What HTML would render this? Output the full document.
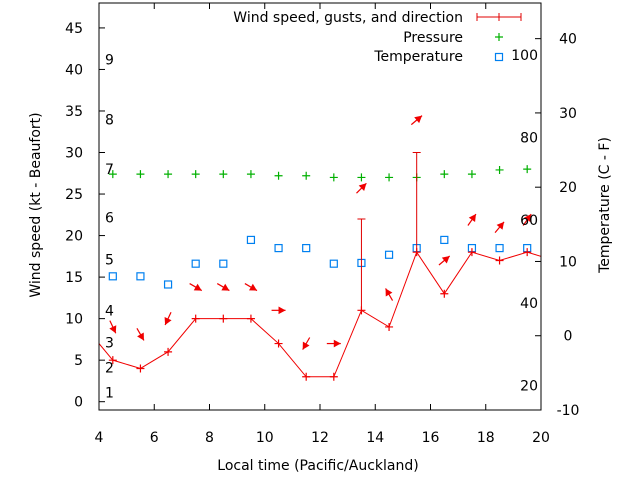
<!DOCTYPE html>
<html><head><meta charset="utf-8"><style>
body{margin:0;background:#fff}
svg{display:block;font-family:"DejaVu Sans","Liberation Sans",sans-serif;font-size:14px}
</style></head><body>
<svg id="c" width="640" height="480">
<rect width="640" height="480" fill="#fff"/>
</svg>
<script>
const times=[3.5,4.5,5.5,6.5,7.5,8.5,9.5,10.5,11.5,12.5,13.5,14.5,15.5,16.5,17.5,18.5,19.5,20.5];
const windSpeed=[9,5,4,6,10,10,10,7,3,3,11,9,18,13,18,17,18,17];
const gustTimes=[13.5,15.5];
const gustValues=[22,30];
const gustBase=[11,18];
const ptTimes=[4.5,5.5,6.5,7.5,8.5,9.5,10.5,11.5,12.5,13.5,14.5,15.5,16.5,17.5,18.5,19.5];
const pressure=[27.4,27.4,27.4,27.4,27.4,27.4,27.2,27.2,27.0,27.0,27.0,27.0,27.4,27.4,27.9,28.0];
const temperature=[8,8,6.9,9.7,9.7,12.9,11.8,11.8,9.7,9.8,10.9,11.8,12.9,11.8,11.8,11.8];
const arrowY=[9.0,8.1,10,13.8,13.8,13.8,11,7,7,25.7,12.9,33.9,17,21.9,21,21.9];
const arrowDir=[65,60,115,30,30,30,0,120,0,-45,-120,-40,-40,-55,-50,-55];
const leftTicks=[0,5,10,15,20,25,30,35,40,45];
const rightTicks=[-10,0,10,20,30,40];
const xTicks=[4,6,8,10,12,14,16,18,20];
const beaufortLabels=["1","2","3","4","5","6","7","8","9"];
const beaufortY=[1.1,4.1,7.1,11.0,17.1,22.2,28.0,34.0,41.2];
const fahrLabels=["20","40","60","80","100"];
const fahrC=[-6.67,4.44,15.56,26.67,37.78];

const L=99,R=541,T=3,B=410;
const X=t=>L+(t-4)/16*(R-L);
const Y=v=>B-(v+1)/49*(B-T);
const YR=v=>B-(v+10)/54.8*(B-T);
const svg=document.getElementById('c');
const NS='http://www.w3.org/2000/svg';
function mk(tag,at,parent){const e=document.createElementNS(NS,tag);for(const k in at)e.setAttribute(k,at[k]);(parent||svg).appendChild(e);return e;}
function txt(x,y,s,anchor){const e=mk('text',{x:x,y:y,'text-anchor':anchor||'start',fill:'#000'});e.textContent=s;return e;}

const defs=mk('defs',{});
const cp=mk('clipPath',{id:'pc'},defs);mk('rect',{x:L,y:T,width:R-L,height:B-T},cp);
const g=mk('g',{'clip-path':'url(#pc)'});

let e=mk('rect',{x:L,y:T,width:R-L,height:B-T,fill:'none',stroke:'#000','stroke-width':1});


leftTicks.forEach(v=>{mk('line',{x1:L,x2:L+6,y1:Y(v),y2:Y(v),stroke:'#000'});
 const t=txt(L-16,Y(v)+5,String(v),'end');
 
 });
rightTicks.forEach(v=>{mk('line',{x1:R-6,x2:R,y1:YR(v),y2:YR(v),stroke:'#000'});
 const t=txt(R+27,YR(v)+5,String(v),'middle');
 
 });
xTicks.forEach(v=>{mk('line',{x1:X(v),x2:X(v),y1:B,y2:B-6,stroke:'#000'});mk('line',{x1:X(v),x2:X(v),y1:T,y2:T+6,stroke:'#000'});
 const t=txt(X(v),B+32,String(v),'middle');
 
 });
beaufortLabels.forEach((s,i)=>{const t=txt(105,Y(beaufortY[i])+5,s,'start');
 
 });
fahrLabels.forEach((s,i)=>{const t=txt(538,YR(fahrC[i])+5,s,'end');
 
 });

pressure.forEach((v,i)=>{const x=X(ptTimes[i]),y=Y(v);
 const p=mk('path',{d:`M${x-4},${y}h8M${x},${y-4}v8`,stroke:'#00b000','stroke-width':1.2},g);
 
 });
temperature.forEach((v,i)=>{const r=mk('rect',{x:X(ptTimes[i])-3.5,y:YR(v)-3.5,width:7,height:7,fill:'none',stroke:'#0080f0','stroke-width':1.2},g);
 
 });
gustTimes.forEach((t,i)=>{const x=X(t);
 const p=mk('path',{d:`M${x},${Y(gustBase[i])}V${Y(gustValues[i])}M${x-4},${Y(gustValues[i])}h8`,stroke:'#e00000','stroke-width':1},g);
 
 });
const pl=mk('polyline',{points:times.map((t,i)=>X(t)+','+Y(windSpeed[i])).join(' '),fill:'none',stroke:'#f00000','stroke-width':1},g);


times.forEach((t,i)=>{const x=X(t),y=Y(windSpeed[i]);
 const p=mk('path',{d:`M${x-4},${y}h8M${x},${y-4}v8`,stroke:'#f00000','stroke-width':1.2},g);
 
 });
arrowY.forEach((v,i)=>{const cx=X(ptTimes[i]),cy=Y(v),a=arrowDir[i]*Math.PI/180,len=14;
 const dx=Math.cos(a)*len/2,dy=Math.sin(a)*len/2;
 const hx=cx+dx,hy=cy+dy;
 const b1=a+Math.PI-0.5,b2=a+Math.PI+0.5;
 const ag=mk('g',{},g);
 
 
 mk('line',{x1:cx-dx,y1:cy-dy,x2:hx,y2:hy,stroke:'#f00000','stroke-width':1.2},ag);
 mk('polygon',{points:`${hx},${hy} ${hx+8*Math.cos(b1)},${hy+8*Math.sin(b1)} ${hx+8*Math.cos(b2)},${hy+8*Math.sin(b2)}`,fill:'#f00000'},ag);});

[["Wind speed, gusts, and direction",17],["Pressure",37],["Temperature",56]].forEach(([s,y])=>{
 const t=txt(463,y+5,s,'end');
 
 });
mk('path',{d:'M477,17H521M477,13v8M521,13v8M499,13v8',stroke:'#e00000','stroke-width':1});
mk('path',{d:'M495,37h8M499,33v8',stroke:'#00b000','stroke-width':1.2});
mk('rect',{x:495.5,y:53.5,width:7,height:7,fill:'none',stroke:'#0080f0','stroke-width':1.2});

let t=txt(318,470,'Local time (Pacific/Auckland)','middle');


t=txt(0,0,'Wind speed (kt - Beaufort)','middle');t.setAttribute('transform','translate(40,205) rotate(-90)');


t=txt(0,0,'Temperature (C - F)','middle');t.setAttribute('transform','translate(609,205) rotate(-90)');


</script>
</body></html>
